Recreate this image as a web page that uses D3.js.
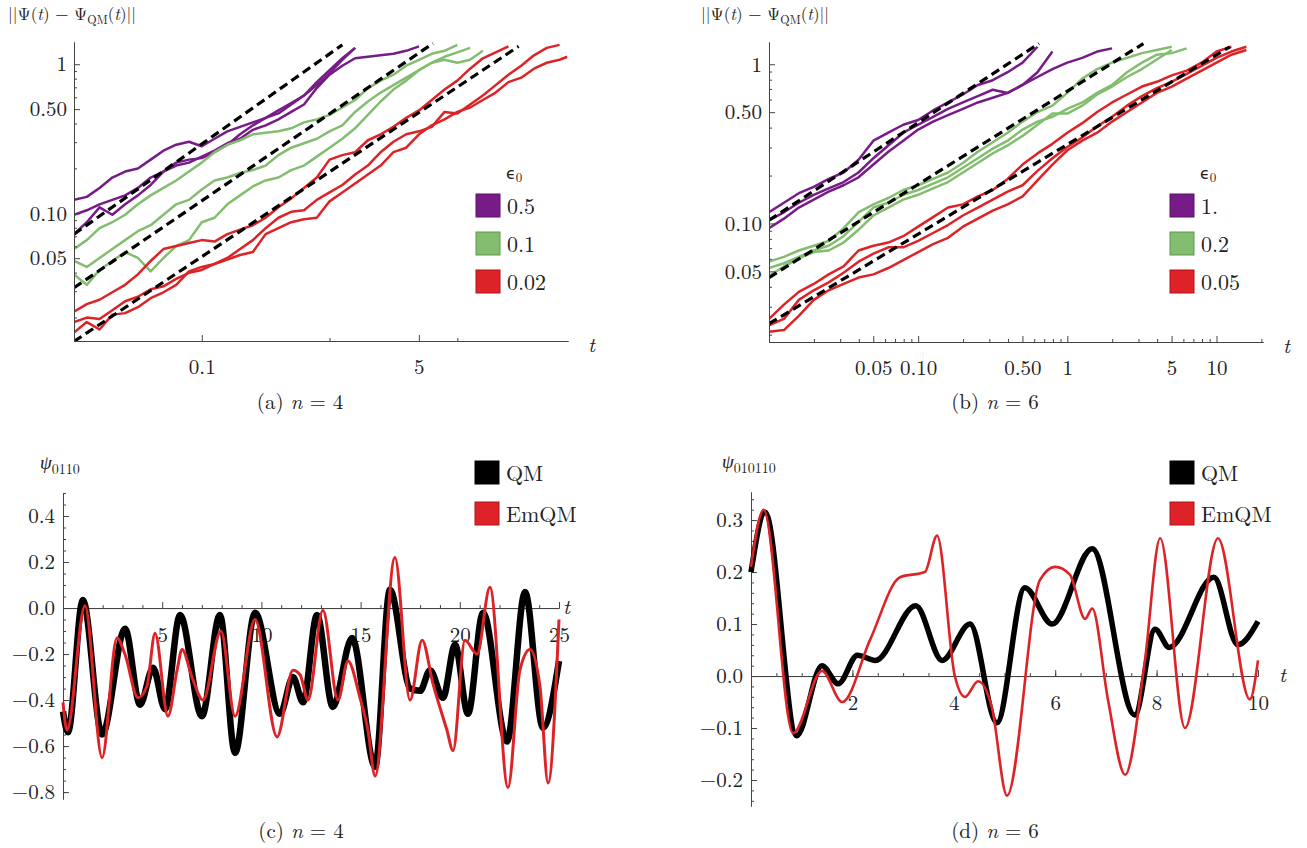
<!DOCTYPE html>
<html>
<head>
<meta charset="utf-8">
<script src="https://cdn.jsdelivr.net/npm/d3@7"></script>
<style>
  body { margin: 0; background: #fff; }
</style>
</head>
<body>
<svg id="fig" width="1307" height="848"></svg>
<script>
// ---------- data ----------
// panels (a) and (b): log10 t grid, traces are log10 ||Psi - Psi_QM|| on that grid
const gridA = [-2.0,-1.9,-1.8,-1.7,-1.6,-1.5,-1.4,-1.3,-1.2,-1.1,-1.0,-0.9,-0.8,-0.7,-0.6,-0.5,-0.4,-0.3,-0.2,-0.1,
  0.0,0.1,0.2,0.3,0.4,0.5,0.6,0.7,0.8,0.9,1.0,1.1,1.2,1.3,1.4,1.5,1.6,1.7,1.8,1.86];

const aPurple = [
  [-0.91,-0.89,-0.83,-0.76,-0.72,-0.70,-0.64,-0.58,-0.54,-0.52,-0.55,-0.50,-0.45,-0.42,-0.39,-0.36,-0.33,-0.27,-0.21,-0.12,-0.04,0.04,0.11],
  [-1.01,-0.98,-0.94,-0.91,-0.88,-0.83,-0.76,-0.72,-0.68,-0.66,-0.62,-0.58,-0.53,-0.50,-0.44,-0.41,-0.37,-0.32,-0.27,-0.16,-0.07,-0.01,0.04,0.05,0.06,0.07,0.09,0.12],
  [-1.14,-1.06,-0.96,-1.01,-0.94,-0.88,-0.81,-0.72,-0.66,-0.64,-0.63,-0.59,-0.54,-0.47,-0.41,-0.36,-0.31,-0.26,-0.21,-0.14,-0.06,0.03,0.11]
];
const aGreen = [
  [-1.24,-1.18,-1.10,-1.06,-1.01,-0.94,-0.88,-0.83,-0.78,-0.72,-0.66,-0.59,-0.54,-0.51,-0.47,-0.46,-0.45,-0.43,-0.39,-0.37,-0.34,-0.29,-0.24,-0.16,-0.11,-0.07,-0.01,0.03,0.07,0.09,0.13],
  [-1.32,-1.36,-1.30,-1.24,-1.18,-1.12,-1.08,-1.01,-0.94,-0.91,-0.84,-0.78,-0.76,-0.73,-0.71,-0.68,-0.61,-0.56,-0.53,-0.50,-0.45,-0.41,-0.32,-0.25,-0.19,-0.14,-0.09,-0.04,0.01,0.03,0.01,0.03,0.09],
  [-1.41,-1.48,-1.38,-1.32,-1.26,-1.30,-1.39,-1.30,-1.22,-1.18,-1.06,-1.03,-0.94,-0.88,-0.82,-0.78,-0.76,-0.71,-0.68,-0.62,-0.56,-0.50,-0.43,-0.34,-0.25,-0.17,-0.11,-0.04,0.01,0.05,0.08,0.11]
];
const aRed = [
  [-1.66,-1.61,-1.58,-1.53,-1.48,-1.41,-1.32,-1.24,-1.22,-1.20,-1.18,-1.19,-1.14,-1.11,-1.08,-1.03,-0.96,-0.90,-0.83,-0.76,-0.64,-0.61,-0.59,-0.51,-0.47,-0.42,-0.36,-0.31,-0.24,-0.17,-0.11,-0.03,0.04,0.08,0.12],
  [-1.73,-1.70,-1.71,-1.65,-1.59,-1.56,-1.51,-1.49,-1.44,-1.40,-1.38,-1.34,-1.30,-1.24,-1.18,-1.10,-1.03,-0.99,-0.98,-0.91,-0.86,-0.81,-0.74,-0.68,-0.59,-0.52,-0.47,-0.45,-0.42,-0.32,-0.33,-0.27,-0.21,-0.14,-0.07,-0.01,0.06,0.11,0.13],
  [-1.80,-1.73,-1.78,-1.68,-1.67,-1.63,-1.57,-1.53,-1.48,-1.39,-1.36,-1.34,-1.31,-1.28,-1.26,-1.14,-1.10,-1.06,-1.04,-1.03,-0.92,-0.86,-0.80,-0.74,-0.68,-0.59,-0.56,-0.47,-0.41,-0.37,-0.32,-0.29,-0.24,-0.19,-0.12,-0.09,-0.03,0.01,0.03,0.05]
];
// fitted power laws: [log t0, log v0, log t1, log v1]
const aFits = [[-2, -1.14, 0.10, 0.13], [-2, -1.50, 0.81, 0.14], [-2, -1.86, 1.48, 0.12]];

const gridB = [-2.0,-1.9,-1.8,-1.7,-1.6,-1.5,-1.4,-1.3,-1.2,-1.1,-1.0,-0.9,-0.8,-0.7,-0.6,-0.5,-0.4,-0.3,-0.2,-0.1,
  0.0,0.1,0.2,0.3,0.4,0.5,0.6,0.7,0.8,0.9,1.0,1.1,1.2,1.3];

const bPurple = [
  [-0.93,-0.87,-0.81,-0.77,-0.72,-0.68,-0.60,-0.48,-0.43,-0.38,-0.35,-0.29,-0.24,-0.19,-0.13,-0.10,-0.05,0.01,0.11],
  [-0.98,-0.93,-0.87,-0.82,-0.78,-0.74,-0.68,-0.59,-0.51,-0.43,-0.38,-0.33,-0.28,-0.24,-0.20,-0.16,-0.18,-0.13,-0.05,0.08],
  [-1.03,-0.97,-0.90,-0.85,-0.80,-0.76,-0.71,-0.63,-0.55,-0.48,-0.41,-0.36,-0.32,-0.28,-0.24,-0.21,-0.18,-0.13,-0.08,-0.03,0.01,0.04,0.08,0.10]
];
const bGreen = [
  [-1.24,-1.21,-1.17,-1.14,-1.11,-1.03,-0.93,-0.88,-0.84,-0.79,-0.76,-0.72,-0.68,-0.62,-0.55,-0.49,-0.43,-0.36,-0.30,-0.26,-0.18,-0.09,-0.03,0.01,0.04,0.07,0.09,0.11],
  [-1.28,-1.25,-1.21,-1.17,-1.14,-1.08,-0.99,-0.90,-0.87,-0.82,-0.79,-0.75,-0.71,-0.65,-0.59,-0.53,-0.48,-0.41,-0.36,-0.33,-0.28,-0.24,-0.18,-0.13,-0.05,0.01,0.06,0.07,0.10],
  [-1.33,-1.27,-1.22,-1.18,-1.17,-1.12,-1.04,-0.95,-0.90,-0.85,-0.82,-0.78,-0.74,-0.68,-0.62,-0.56,-0.51,-0.45,-0.38,-0.31,-0.31,-0.26,-0.19,-0.14,-0.08,-0.03,0.03,0.09]
];
const bRed = [
  [-1.60,-1.51,-1.43,-1.38,-1.32,-1.27,-1.17,-1.14,-1.12,-1.08,-1.02,-0.96,-0.90,-0.88,-0.83,-0.79,-0.72,-0.63,-0.56,-0.50,-0.43,-0.37,-0.30,-0.24,-0.19,-0.14,-0.11,-0.07,-0.04,0.01,0.08,0.11],
  [-1.64,-1.60,-1.48,-1.42,-1.37,-1.31,-1.24,-1.19,-1.15,-1.15,-1.11,-1.06,-1.01,-0.95,-0.90,-0.85,-0.80,-0.76,-0.67,-0.59,-0.52,-0.46,-0.39,-0.33,-0.26,-0.20,-0.15,-0.11,-0.06,-0.01,0.04,0.08,0.11],
  [-1.68,-1.67,-1.58,-1.48,-1.42,-1.38,-1.34,-1.32,-1.28,-1.23,-1.18,-1.13,-1.09,-1.02,-0.97,-0.92,-0.88,-0.83,-0.73,-0.63,-0.54,-0.48,-0.43,-0.36,-0.30,-0.24,-0.18,-0.14,-0.09,-0.04,0.01,0.06,0.09]
];
const bFits = [[-2, -0.98, -0.19, 0.13], [-2, -1.34, 0.51, 0.13], [-2, -1.63, 1.09, 0.11]];

const aEps = ["0.5", "0.1", "0.02"];
const bEps = ["1.", "0.2", "0.05"];

// panels (c) and (d): amplitude vs t
const cQmT = [0,0.25,1.0,1.97,3.13,3.88,4.54,5.14,5.9,7.0,7.91,8.67,9.68,10.94,11.59,12.1,12.8,13.6,14.57,15.73,16.48,17.5,18.0,18.5,19.15,19.76,20.41,21.17,22.38,23.29,24.19,25.0];
const cQmV = [-0.45,-0.54,0.035,-0.55,-0.09,-0.42,-0.26,-0.44,-0.03,-0.47,-0.03,-0.63,-0.02,-0.46,-0.30,-0.41,-0.03,-0.43,-0.13,-0.69,0.08,-0.35,-0.36,-0.27,-0.39,-0.16,-0.46,-0.02,-0.58,0.07,-0.52,-0.23];
const cEmT = [0,0.2,1.11,1.97,2.72,3.12,3.78,4.23,4.64,5.29,5.75,6.0,6.5,7.06,7.96,8.67,9.68,10.79,11.59,11.95,12.35,13.1,13.86,14.36,14.97,15.37,15.73,16.73,17.49,18.1,18.65,19.35,19.66,20.26,20.87,21.52,22.43,23.03,23.54,24.04,24.45,25.0];
const cEmV = [-0.41,-0.53,0.01,-0.65,-0.13,-0.20,-0.39,-0.34,-0.11,-0.47,-0.27,-0.18,-0.30,-0.40,-0.10,-0.47,-0.05,-0.56,-0.27,-0.29,-0.40,-0.01,-0.40,-0.23,-0.39,-0.53,-0.73,0.22,-0.40,-0.14,-0.33,-0.53,-0.62,-0.14,-0.20,0.09,-0.78,-0.27,-0.18,-0.34,-0.76,-0.05];

const dQmT = [0,0.28,0.9,1.4,1.72,2.1,2.45,3.25,3.77,4.32,4.85,5.4,5.94,6.73,7.57,7.97,8.25,9.13,9.6,10];
const dQmV = [0.20,0.315,-0.115,0.02,-0.015,0.04,0.03,0.135,0.03,0.10,-0.09,0.17,0.10,0.245,-0.075,0.09,0.055,0.19,0.06,0.105];
const dEmT = [0,0.25,0.83,1.4,1.8,2.35,2.94,3.43,3.67,4.02,4.22,4.48,4.75,5.05,5.7,6.0,6.29,6.59,6.73,7.04,7.38,7.77,8.07,8.56,9.21,9.84,10];
const dEmV = [0.21,0.32,-0.11,0.01,-0.05,0.07,0.19,0.20,0.27,0.0,-0.04,-0.01,-0.06,-0.23,0.185,0.21,0.195,0.11,0.13,-0.045,-0.19,0.03,0.265,-0.10,0.265,-0.045,0.03];

// ticks
const aXMajor = [0.1, 5], aXLabels = ["0.1", "5"], aXMinor = [1, 10];
const bXMajor = [0.05, 0.1, 0.5, 1, 5, 10], bXLabels = ["0.05", "0.10", "0.50", "1", "5", "10"];
const bXMinor = [0.02,0.03,0.04,0.06,0.07,0.08,0.09,0.2,0.3,0.4,0.6,0.7,0.8,0.9,2,3,4,6,7,8,9,20];
const logYMajor = [0.05, 0.1, 0.5, 1], logYLabels = ["0.05", "0.10", "0.50", "1"];
const logYMinor = [0.02,0.03,0.04,0.06,0.07,0.08,0.09,0.2,0.3,0.4,0.6,0.7,0.8,0.9];
const cXMajor = [5, 10, 15, 20, 25], cYMajor = [-0.8, -0.6, -0.4, -0.2, 0, 0.2, 0.4];
const dXMajor = [2, 4, 6, 8, 10], dYMajor = [-0.2, -0.1, 0, 0.1, 0.2, 0.3];

const colors = { purple: "#771c87", green: "#83bd6f", red: "#dd2327" };
const edge = { purple: "#5c1069", green: "#5f9a4c", red: "#b51419" };

// ---------- drawing ----------
const svg = d3.select("#fig");
const serif = '"Latin Modern Roman", "Liberation Serif", serif';
const axisColor = "#444";

function styleAxis(sel, size) {
  sel.attr("font-family", null).attr("font-size", null);
  sel.select(".domain").attr("stroke", axisColor).attr("stroke-width", 1);
  sel.selectAll(".tick line").attr("stroke", axisColor).attr("stroke-width", 1);
  sel.selectAll(".tick text").attr("fill", "#222")
    .style("font-family", serif).style("font-size", size + "px");
}

function txt(x, y, size) {
  return svg.append("text").attr("x", x).attr("y", y).attr("fill", "#222")
    .style("font-family", serif).style("font-size", size + "px");
}

function legendBoxes(x, y, step, items) {
  items.forEach((it, i) => {
    svg.append("rect").attr("x", x).attr("y", y + i * step).attr("width", 24).attr("height", 23)
      .attr("fill", it.fill).attr("stroke", it.stroke).attr("stroke-width", 1);
    txt(x + 31, y + i * step + 20, 22).text(it.label);
  });
}

function caption(cx, cy, letter, n) {
  const t = txt(cx, cy, 21).attr("text-anchor", "middle");
  t.append("tspan").text("(" + letter + ") ");
  t.append("tspan").style("font-style", "italic").text("n");
  t.append("tspan").text(" = " + n);
}

function normTitle(x, y) {
  const t = txt(x, y, 17);
  t.append("tspan").text("||Ψ(");
  t.append("tspan").style("font-style", "italic").text("t");
  t.append("tspan").text(") − Ψ");
  t.append("tspan").style("font-size", "12px").attr("dy", 4).text("QM");
  t.append("tspan").attr("dy", -4).text("(");
  t.append("tspan").style("font-style", "italic").text("t");
  t.append("tspan").text(")||");
}

function logPanel(p) {
  const x = d3.scaleLog().domain(p.xDomain).range([p.x0, p.x1]);
  const y = d3.scaleLog().domain(p.yDomain).range([p.y0, p.y1]);
  const cid = "clip" + p.id;
  svg.append("clipPath").attr("id", cid).append("rect")
    .attr("x", p.x0).attr("y", p.y1 - 2).attr("width", p.x1 - p.x0 + 2).attr("height", p.y0 - p.y1 + 2);
  const plot = svg.append("g").attr("clip-path", `url(#${cid})`);
  const line = d3.line().x(d => x(Math.pow(10, d[0]))).y(d => y(Math.pow(10, d[1])));

  p.series.forEach(s => {
    s.traces.forEach(tr => {
      plot.append("path")
        .datum(tr.map((v, i) => [p.grid[i], v]))
        .attr("d", line)
        .attr("fill", "none")
        .attr("stroke", colors[s.color])
        .attr("stroke-width", 2.5)
        .attr("stroke-linejoin", "round");
    });
  });
  p.fits.forEach(f => {
    plot.append("path")
      .datum([[f[0], f[1]], [f[2], f[3]]])
      .attr("d", line)
      .attr("fill", "none")
      .attr("stroke", "#000")
      .attr("stroke-width", 3.2)
      .attr("stroke-dasharray", "9,5");
  });

  const yMin = svg.append("g").attr("transform", `translate(${p.x0},0)`)
    .call(d3.axisLeft(y).tickValues(logYMinor).tickFormat("").tickSizeInner(-3).tickSizeOuter(0));
  styleAxis(yMin, 21);
  const yMaj = svg.append("g").attr("transform", `translate(${p.x0},0)`)
    .call(d3.axisLeft(y).tickValues(logYMajor).tickFormat((d, i) => logYLabels[i])
      .tickSizeInner(-6).tickSizeOuter(0).tickPadding(7));
  styleAxis(yMaj, 21);

  const xMin = svg.append("g").attr("transform", `translate(0,${p.y0})`)
    .call(d3.axisBottom(x).tickValues(p.xMinor).tickFormat("").tickSizeInner(-3).tickSizeOuter(0));
  styleAxis(xMin, 21);
  const xMaj = svg.append("g").attr("transform", `translate(0,${p.y0})`)
    .call(d3.axisBottom(x).tickValues(p.xMajor).tickFormat((d, i) => p.xLabels[i])
      .tickSizeInner(-6).tickSizeOuter(0).tickPadding(18));
  styleAxis(xMaj, 21);

  txt(p.x1 + 20, p.y0 + 11, 21).style("font-style", "italic").text("t");
  normTitle(p.titleX, 20);

  const eps = svg.append("text").attr("x", p.legX + 30).attr("y", 179).attr("fill", "#222")
    .style("font-family", '"DejaVu Sans", sans-serif').style("font-size", "16px");
  eps.append("tspan").text("ϵ");
  eps.append("tspan").style("font-family", serif).style("font-size", "13px").attr("dy", 3).text("0");
  legendBoxes(p.legX, 194, 38, ["purple", "green", "red"].map((c, i) => ({
    fill: colors[c], stroke: edge[c], label: p.eps[i]
  })));
  caption(p.capX, 409, p.letter, p.n);
}

function linPanel(p) {
  const x = d3.scaleLinear().domain(p.xDomain).range([p.x0, p.x1]);
  const y = d3.scaleLinear().domain(p.yDomain).range([p.y0, p.y1]);
  const line = d3.line().curve(d3.curveMonotoneX).x(d => x(d[0])).y(d => y(d[1]));

  const xMin = svg.append("g").attr("transform", `translate(0,${y(0)})`)
    .call(d3.axisBottom(x).tickValues(p.xMinor).tickFormat("").tickSizeInner(-3).tickSizeOuter(0));
  styleAxis(xMin, 21);
  const xMaj = svg.append("g").attr("transform", `translate(0,${y(0)})`)
    .call(d3.axisBottom(x).tickValues(p.xMajor).tickFormat(d3.format("d"))
      .tickSizeInner(-6).tickSizeOuter(0).tickPadding(19));
  styleAxis(xMaj, 21);
  const yMin = svg.append("g").attr("transform", `translate(${x(0)},0)`)
    .call(d3.axisLeft(y).tickValues(p.yMinor).tickFormat("").tickSizeInner(-3).tickSizeOuter(0));
  styleAxis(yMin, 21);
  const yMaj = svg.append("g").attr("transform", `translate(${x(0)},0)`)
    .call(d3.axisLeft(y).tickValues(p.yMajor).tickFormat(d3.format(".1f"))
      .tickSizeInner(-6).tickSizeOuter(0).tickPadding(8));
  styleAxis(yMaj, 21);

  svg.append("path").datum(p.qmT.map((t, i) => [t, p.qmV[i]]))
    .attr("d", line).attr("fill", "none").attr("stroke", "#000")
    .attr("stroke-width", p.qmWidth).attr("stroke-linejoin", "round");
  svg.append("path").datum(p.emT.map((t, i) => [t, p.emV[i]]))
    .attr("d", line).attr("fill", "none").attr("stroke", colors.red)
    .attr("stroke-width", p.emWidth).attr("stroke-linejoin", "round");

  txt(p.tX, y(0) + 6, 21).style("font-style", "italic").text("t");
  const lab = txt(p.labX, p.y1 - 24, 19);
  lab.append("tspan").style("font-style", "italic").style("font-family", '"Liberation Serif", serif').text("ψ");
  lab.append("tspan").style("font-size", "14px").attr("dy", 5).text(p.sub);

  legendBoxes(p.legX, 461, 41, [
    { fill: "#000", stroke: "#000", label: "QM" },
    { fill: colors.red, stroke: edge.red, label: "EmQM" }
  ]);
  caption(p.capX, 838, p.letter, p.n);
}

logPanel({
  id: "a", letter: "a", n: 4, grid: gridA,
  xDomain: [0.01, 73.5], yDomain: [0.0139, 1.41],
  x0: 74, x1: 568, y0: 341, y1: 42,
  series: [{ color: "purple", traces: aPurple }, { color: "green", traces: aGreen }, { color: "red", traces: aRed }],
  fits: aFits, xMajor: aXMajor, xLabels: aXLabels, xMinor: aXMinor,
  eps: aEps, legX: 476, titleX: 8, capX: 300
});

logPanel({
  id: "b", letter: "b", n: 6, grid: gridB,
  xDomain: [0.01, 20.5], yDomain: [0.018, 1.38],
  x0: 769, x1: 1263, y0: 342, y1: 42,
  series: [{ color: "purple", traces: bPurple }, { color: "green", traces: bGreen }, { color: "red", traces: bRed }],
  fits: bFits, xMajor: bXMajor, xLabels: bXLabels, xMinor: bXMinor,
  eps: bEps, legX: 1170, titleX: 701, capX: 995
});

linPanel({
  letter: "c", n: 4, sub: "0110",
  xDomain: [0, 25], yDomain: [-0.83, 0.5], x0: 63, x1: 559, y0: 799, y1: 493,
  xMajor: cXMajor, xMinor: d3.range(1, 25, 1).filter(v => v % 5 !== 0),
  yMajor: cYMajor, yMinor: d3.range(-0.8, 0.51, 0.05),
  qmT: cQmT, qmV: cQmV, emT: cEmT, emV: cEmV, qmWidth: 6.5, emWidth: 3,
  labX: 40, legX: 475, capX: 301, tX: 563
});

linPanel({
  letter: "d", n: 6, sub: "010110",
  xDomain: [0, 10], yDomain: [-0.25, 0.354], x0: 751, x1: 1258, y0: 806, y1: 492,
  xMajor: dXMajor, xMinor: d3.range(0.5, 10, 0.5),
  yMajor: dYMajor, yMinor: d3.range(-0.24, 0.35, 0.02),
  qmT: dQmT, qmV: dQmV, emT: dEmT, emV: dEmV, qmWidth: 5.5, emWidth: 2.6,
  labX: 722, legX: 1170, capX: 995, tX: 1279
});
</script>
</body>
</html>
